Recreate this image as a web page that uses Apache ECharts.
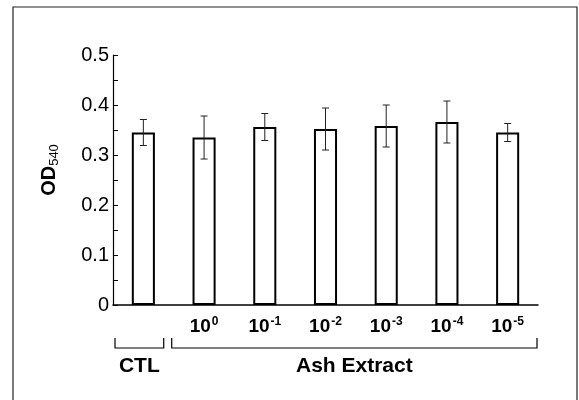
<!DOCTYPE html>
<html>
<head>
<meta charset="utf-8">
<script src="https://cdn.jsdelivr.net/npm/echarts@6/dist/echarts.min.js"></script>
<style>
  html, body { margin: 0; padding: 0; background: #fff; }
  #chart { width: 579px; height: 400px; }
</style>
</head>
<body>
<div id="chart"></div>
<script>
// categories: first one is the control, rest are ash extract dilutions
var categories = ['CTL', '10^0', '10^-1', '10^-2', '10^-3', '10^-4', '10^-5'];
var means = [0.345, 0.335, 0.356, 0.352, 0.358, 0.366, 0.345];
var errors = [0.026, 0.043, 0.027, 0.042, 0.042, 0.042, 0.018];
var yTicks = [0, 0.1, 0.2, 0.3, 0.4, 0.5];
var groups = [
  { label: 'CTL', from: 0, to: 0 },
  { label: 'Ash Extract', from: 1, to: 6 }
];

var ink = '#000';
var font = 'Liberation Sans, Arial, Helvetica, sans-serif';

var myChart = echarts.init(document.getElementById('chart'));

function catLabel(v) {
  if (v === 'CTL') return '';
  var p = v.split('^');
  return '{b|' + p[0] + '}{s|' + p[1] + '}';
}

var errData = means.map(function (m, i) { return [i, m - errors[i], m + errors[i]]; });

var option = {
  animation: false,
  backgroundColor: '#fff',
  grid: { left: 113, right: 41, top: 55, bottom: 95 },
  xAxis: {
    type: 'category',
    data: categories,
    axisLine: { lineStyle: { color: ink, width: 1.5 } },
    axisTick: { show: false },
    axisLabel: {
      margin: 11,
      interval: 0,
      formatter: catLabel,
      rich: {
        b: { fontFamily: font, fontWeight: 'bold', fontSize: 19, color: ink, lineHeight: 22 },
        s: { fontFamily: font, fontWeight: 'bold', fontSize: 12, color: ink, verticalAlign: 'top', lineHeight: 22, padding: [0, 0, 8, 1] }
      }
    },
    splitLine: { show: false }
  },
  yAxis: {
    type: 'value',
    min: 0,
    max: 0.5,
    interval: 0.1,
    name: '{a|OD}{s|540}',
    nameLocation: 'middle',
    nameRotate: 90,
    nameGap: 52,
    nameTextStyle: {
      padding: [0, 0, 0, 20],
      rich: {
        a: { fontFamily: font, fontWeight: 'bold', fontSize: 20, color: ink, lineHeight: 24 },
        s: { fontFamily: font, fontSize: 13, color: ink, verticalAlign: 'bottom', lineHeight: 24, padding: [5, 0, 0, 0] }
      }
    },
    axisLine: { show: true, lineStyle: { color: ink, width: 1.2 } },
    axisTick: { show: true, inside: true, length: 5, lineStyle: { color: ink } },
    minorTick: { show: true, splitNumber: 2, length: 5, lineStyle: { color: ink } },
    axisLabel: {
      fontFamily: font,
      fontSize: 20,
      color: ink,
      margin: 4,
      formatter: function (v) {
        if (yTicks.indexOf(v) < 0) return '';
        return v === 0 ? '0' : v.toFixed(1);
      }
    },
    splitLine: { show: false }
  },
  series: [
    {
      type: 'bar',
      data: means,
      barWidth: '38%',
      itemStyle: { color: '#fff', borderColor: ink, borderWidth: 2 }
    },
    {
      type: 'custom',
      data: errData,
      z: 10,
      renderItem: function (params, api) {
        var x = api.value(0);
        var lo = api.coord([x, api.value(1)]);
        var hi = api.coord([x, api.value(2)]);
        var cap = 3.5;
        var st = { stroke: '#222', lineWidth: 1 };
        return {
          type: 'group',
          children: [
            { type: 'line', shape: { x1: hi[0], y1: hi[1], x2: lo[0], y2: lo[1] }, style: st },
            { type: 'line', shape: { x1: hi[0] - cap, y1: hi[1], x2: hi[0] + cap, y2: hi[1] }, style: st },
            { type: 'line', shape: { x1: lo[0] - cap, y1: lo[1], x2: lo[0] + cap, y2: lo[1] }, style: st }
          ]
        };
      }
    }
  ]
};

myChart.setOption(option);

// brackets under the axis + outer frame
function buildGraphics() {
  var p0 = myChart.convertToPixel({ xAxisIndex: 0 }, 0);
  var p1 = myChart.convertToPixel({ xAxisIndex: 0 }, 1);
  var step = p1 - p0;
  var yLine = 348, yTop = 338, yText = 366;
  var els = [];
  groups.forEach(function (g, k) {
    var left = myChart.convertToPixel({ xAxisIndex: 0 }, g.from) - step / 2 + (k === 0 ? 2 : -2);
    var right = myChart.convertToPixel({ xAxisIndex: 0 }, g.to) + step / 2 - (k === 0 ? 10 : 1);
    els.push({
      type: 'polyline',
      shape: { points: [[left, yTop], [left, yLine], [right, yLine], [right, yTop]] },
      style: { stroke: ink, lineWidth: 1.2, fill: null }
    });
    els.push({
      type: 'text',
      x: (left + right) / 2,
      y: yText,
      style: {
        text: g.label,
        font: 'bold 21px ' + font,
        fill: ink,
        align: 'center',
        verticalAlign: 'middle'
      }
    });
  });
  els.push({
    type: 'polyline',
    shape: { points: [[13, 400], [13, 7], [577, 7], [577, 400]] },
    style: { stroke: '#222', lineWidth: 1.2, fill: null }
  });
  myChart.setOption({ graphic: { elements: els } });
}
buildGraphics();
</script>
</body>
</html>
